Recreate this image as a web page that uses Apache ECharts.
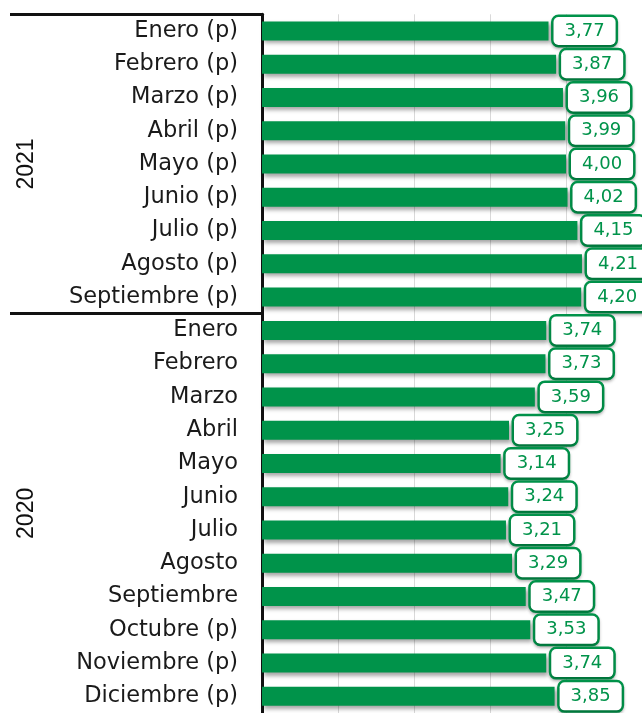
<!DOCTYPE html>
<html><head><meta charset="utf-8">
<script src="https://cdn.jsdelivr.net/npm/echarts@6/dist/echarts.min.js"></script>
<style>html,body{margin:0;padding:0;background:#fff}#c{width:642px;height:713px}</style>
</head><body><div id="c"></div>
<script>
const categories = ['Enero (p)','Febrero (p)','Marzo (p)','Abril (p)','Mayo (p)','Junio (p)','Julio (p)','Agosto (p)','Septiembre (p)',
  'Enero','Febrero','Marzo','Abril','Mayo','Junio','Julio','Agosto','Septiembre','Octubre (p)','Noviembre (p)','Diciembre (p)'];
const values = [3.77,3.87,3.96,3.99,4.00,4.02,4.15,4.21,4.20,
  3.74,3.73,3.59,3.25,3.14,3.24,3.21,3.29,3.47,3.53,3.74,3.85];
const yearLabels = ['2021','2020'];
const yearCounts = [9,12];
const xTicks = [0,1,2,3,4,5];

const bounds = [0]; const mids = [];
yearCounts.forEach((n,i)=>{ mids.push(bounds[i]+n/2); bounds.push(bounds[i]+n); });
const lineBounds = bounds.slice(0, -1);
const GREEN = '#00934a';
const chart = echarts.init(document.getElementById('c'));
chart.setOption({
  animation:false,
  grid:{left:262, top:14.3, right:-6, bottom:-1.7, containLabel:false},
  xAxis:{type:'value', min:xTicks[0], max:xTicks[xTicks.length-1], interval:1,
    axisLine:{show:false}, axisTick:{show:false}, axisLabel:{show:false},
    splitLine:{lineStyle:{color:'#d9d9d9', width:1}}},
  yAxis:[{type:'category', data:categories, inverse:true,
    axisLine:{lineStyle:{color:'#111', width:3}}, axisTick:{show:false},
    axisLabel:{color:'#1a1a1a', fontSize:22.5, fontFamily:'DejaVu Sans', margin:24, padding:[5,0,0,0]}},
   {type:'value', min:0, max:categories.length, inverse:true, position:'left',
    axisLine:{show:false}, splitLine:{show:false},
    axisTick:{show:true, customValues:lineBounds, length:252, lineStyle:{color:'#111', width:3}},
    axisLabel:{customValues:mids, formatter:(v)=>yearLabels[mids.indexOf(v)], rotate:90,
      align:'center', verticalAlign:'middle', margin:235, color:'#111', fontSize:23, fontFamily:'Liberation Sans'}}],
  series:[{type:'bar', yAxisIndex:0, data:values, barWidth:19,
    itemStyle:{color:GREEN, shadowColor:'rgba(0,0,0,0.35)', shadowBlur:4, shadowOffsetX:2, shadowOffsetY:3},
    label:{show:true, position:'right', distance:5, formatter:(p)=>p.value.toFixed(2).replace('.',','),
      color:GREEN, fontSize:18, fontFamily:'DejaVu Sans', backgroundColor:'#fff', borderColor:GREEN, borderWidth:2.5,
      borderRadius:5, padding:[6,11,4,11], shadowColor:'rgba(0,0,0,0.25)', shadowBlur:3, shadowOffsetY:2}}]
});
</script></body></html>
